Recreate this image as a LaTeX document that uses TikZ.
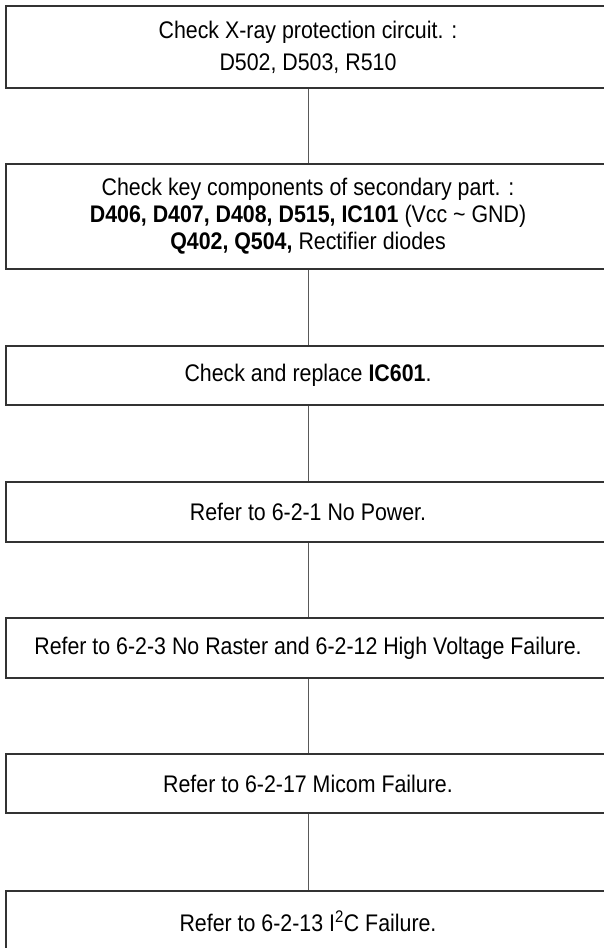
\documentclass[tikz,border=0pt]{standalone}
\usepackage{fontspec}
\setmainfont{Liberation Sans}[FakeStretch=0.89]
\begin{document}
\begin{tikzpicture}[x=1pt,y=-1pt,
  box/.style={draw=black!80, line width=1.2pt, minimum width=604pt, inner sep=0pt,
    align=center, font=\fontsize{24}{27}\selectfont},
  link/.style={draw=black!65, line width=1pt}]
\clip (0,0) rectangle (604,948);
\node[box, minimum height=82pt] (b1) at (308,47) {Check X-ray protection circuit. :\\[5pt] D502, D503, R510};
\node[box, minimum height=105pt] (b2) at (308,216.5) {Check key components of secondary part. :\\ \textbf{D406, D407, D408, D515, IC101} (Vcc \textasciitilde{} GND)\\ \textbf{Q402, Q504,} Rectifier diodes};
\node[box, minimum height=59pt] (b3) at (308,375.5) {Check and replace \textbf{IC601}.};
\node[box, minimum height=60pt] (b4) at (308,512) {Refer to 6-2-1 No Power.};
\node[box, minimum height=60pt] (b5) at (308,648) {Refer to 6-2-3 No Raster and 6-2-12 High Voltage Failure.};
\node[box, minimum height=59pt] (b6) at (308,783.5) {Refer to 6-2-17 Micom Failure.};
\node[box, minimum height=60pt] (b7) at (308,921) {Refer to 6-2-13 I\textsuperscript{2}C Failure.};
\draw[link] (b1) -- (b2);
\draw[link] (b2) -- (b3);
\draw[link] (b3) -- (b4);
\draw[link] (b4) -- (b5);
\draw[link] (b5) -- (b6);
\draw[link] (b6) -- (b7);
\end{tikzpicture}
\end{document}
